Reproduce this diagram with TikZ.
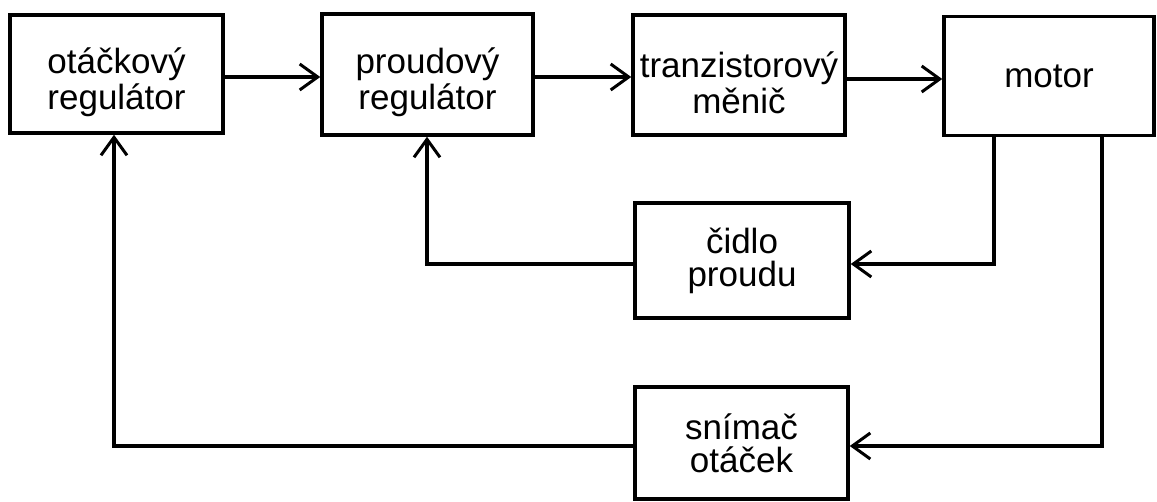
\documentclass[tikz,border=0pt]{standalone}
\usepackage{fontspec}
\setmainfont{Liberation Sans}
\usetikzlibrary{arrows.meta}

\tikzset{
  blk/.style={draw=black, line width=3.5pt, fill=white, rectangle, inner sep=0pt,
              align=center, font=\fontsize{35}{37}\selectfont},
  lowblk/.style={blk, font=\fontsize{35}{33}\selectfont},
  txt/.style={inner sep=0pt, align=center, font=\fontsize{35}{36}\selectfont, yshift=-8pt},
  wire/.style={draw=black, line width=3.5pt},
  flow/.style={wire, -{Straight Barb[length=18pt,width=26pt,line width=3pt]}}
}

\begin{document}
\begin{tikzpicture}[x=1pt, y=-1pt]
  \useasboundingbox (0,0) rectangle (1157,502);

  % forward path
  \node[blk, minimum width=213pt, minimum height=118pt,
        label={[txt, name=ok-t]center:otáčkový\\regulátor}] (ok) at (116.5,74) {};
  \node[blk, minimum width=211pt, minimum height=121pt,
        label={[txt, name=pr-t]center:proudový\\regulátor}] (pr) at (427.5,74.5) {};
  \node[blk, minimum width=212pt, minimum height=120pt,
        label={[txt, name=tm-t]center:tranzistorový\\měnič}] (tm) at (739,75) {};
  \node[blk, minimum width=210pt, minimum height=119pt] (mo) at (1049,76) {motor};

  % feedback sensors
  \node[lowblk, minimum width=214pt, minimum height=115pt] (cp) at (742,260.5) {čidlo\\proudu};
  \node[lowblk, minimum width=213pt, minimum height=112pt] (sn) at (741.5,443) {snímač\\otáček};

  % connection points on the motor and feedback paths
  \coordinate (m1) at (994,137);
  \coordinate (m2) at (1102,137);
  \coordinate (f1) at (427,264);
  \coordinate (f2) at (114,446);

  \draw[flow] (ok.east |- 0,77) -- (pr.west |- 0,77);
  \draw[flow] (pr.east |- 0,77) -- (tm.west |- 0,77);
  \draw[flow] (tm.east |- 0,79) -- (mo.west |- 0,79);

  % current loop
  \draw[flow] (m1) |- (cp.east |- 0,264);
  \draw[flow] (cp.west |- f1) -- (f1) -- (f1 |- pr.south);

  % speed loop
  \draw[flow] (m2) |- (sn.east |- 0,446);
  \draw[flow] (sn.west |- f2) -- (f2) -- (f2 |- ok.south);
\end{tikzpicture}
\end{document}
